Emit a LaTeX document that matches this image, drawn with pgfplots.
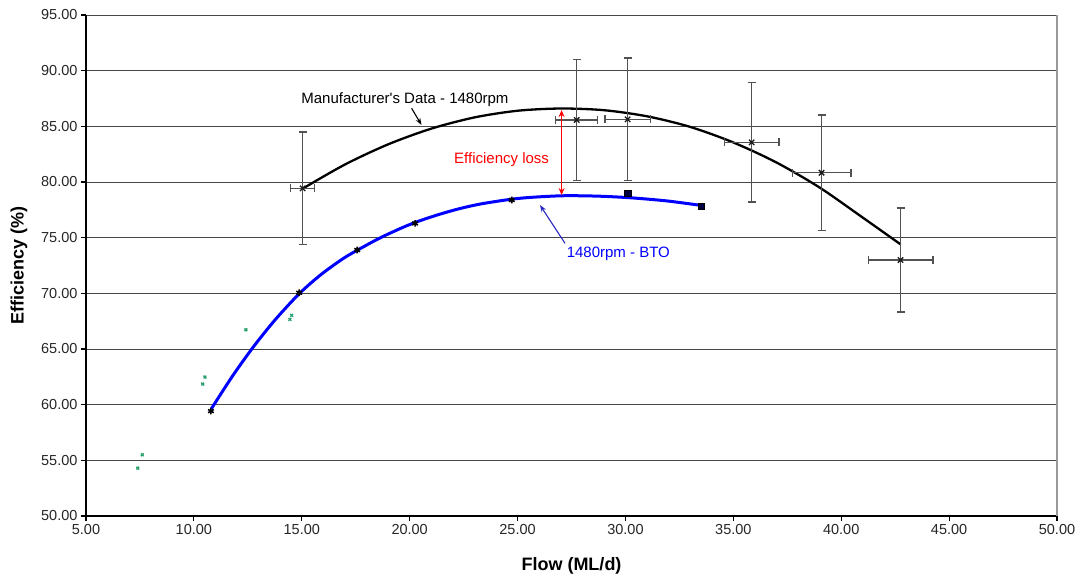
\documentclass[border=0pt]{standalone}
\usepackage{pgfplots}
\pgfplotsset{compat=1.18}
\usepackage{fontspec}
\setmainfont{Liberation Sans}
\usetikzlibrary{arrows.meta}
\definecolor{grn}{RGB}{40,160,110}
\definecolor{arrblue}{RGB}{40,40,190}
\begin{document}
\begin{tikzpicture}
\path[use as bounding box] (-86pt,-59pt) rectangle (998pt,516pt);
\begin{axis}[
  at={(0,0)}, anchor=south west,
  width=971pt, height=501pt, scale only axis,
  xmin=5, xmax=50, ymin=50, ymax=95,
  xtick={5,10,...,50}, ytick={50,55,...,95},
  axis lines=left, axis line style={-, line width=1.5pt, black},
  tick align=outside, major tick length=5pt, tick style={black, line width=1.1pt},
  ymajorgrids, major grid style={line width=0.9pt, black!72},
  tick label style={font=\fontsize{14.5}{16}\selectfont, text=black!85},
  xlabel={Flow (ML/d)}, ylabel={Efficiency (\%)},
  xlabel style={font=\bfseries\fontsize{18}{20}\selectfont, at={(rel axis cs:0.5,0)}, anchor=center, yshift=-49.5pt},
  ylabel style={font=\bfseries\fontsize{18}{20}\selectfont, at={([xshift=-67pt]rel axis cs:0,0.5)}, anchor=center},
  clip=false,
  /pgf/number format/fixed, /pgf/number format/fixed zerofill, /pgf/number format/precision=2,
  /pgf/number format/assume math mode=true,
]
% right border
\draw[black!40, line width=1.3pt] (rel axis cs:1,0) -- (rel axis cs:1,1);

% manufacturer trend
\addplot[black, line width=2.3pt, smooth] coordinates {
 (15.04,79.4) (17,81.57) (19,83.38) (21,84.79) (23,85.80) (25,86.40) (27,86.6)
 (29,86.45) (31,85.90) (33,84.95) (35,83.55) (37,81.75) (39,79.5) (41,76.8) (42.75,74.4)
};

% manufacturer data with error bars
\addplot[only marks, mark=x, mark size=3.8pt, mark options={line width=1.3pt, black!90},
  error bars/.cd, x dir=both, x explicit, y dir=both, y explicit,
  error bar style={line width=1.3pt, black!68},
  error mark options={rotate=90, mark size=4pt, line width=1.3pt, black!68}]
 coordinates {
 (15.04,79.43) +- (0.55,5.05)
 (27.74,85.57) +- (0.97,5.45)
 (30.10,85.63) +- (1.05,5.5)
 (35.85,83.56) +- (1.26,5.37)
 (39.09,80.83) +- (1.36,5.18)
 (42.75,72.99) +- (1.50,4.68)
};

% green scattered points
\addplot[only marks, mark=x, mark size=2pt, mark options={line width=1.3pt, grn}] coordinates {
 (7.61,55.5) (7.40,54.3) (10.51,62.48) (10.41,61.85) (12.41,66.73) (14.53,68.02) (14.45,67.66)
};

% BTO trend
\addplot[blue, line width=3pt, smooth] coordinates {
 (10.8,59.6) (11.8,62.6) (12.8,65.3) (13.8,67.7) (14.9,70.0) (15.9,71.7) (16.9,73.1)
 (17.6,73.9) (18.6,74.95) (19.6,75.85) (20.3,76.4) (21.3,77.05) (22.3,77.6) (23.3,78.03)
 (24.7,78.45) (25.7,78.63) (27,78.76) (28,78.76) (29,78.71) (30.1,78.6) (31.1,78.45)
 (32.1,78.26) (33.5,77.9)
};

% BTO data
\addplot[only marks, mark=asterisk, mark size=3.3pt, mark options={line width=1.6pt, black}] coordinates {
 (10.79,59.42) (14.88,70.05) (17.57,73.89) (20.25,76.28) (24.73,78.38)
};
\addplot[only marks, mark=square*, mark size=3.2pt, mark options={black, fill=black!75!blue}] coordinates {
 (30.10,78.98) (33.50,77.84)
};

% annotations
\node[font=\fontsize{15}{17}\selectfont] at (axis cs:19.78,87.43) {Manufacturer\textquotesingle s Data - 1480rpm};
\draw[-{Stealth[length=7pt,width=5pt]}, line width=1.1pt] (axis cs:20.09,86.62) -- (axis cs:20.55,85.12);
\draw[{Stealth[length=7pt,width=6pt]}-{Stealth[length=7pt,width=6pt]}, red, line width=1.1pt] (axis cs:27.04,86.46) -- (axis cs:27.04,78.83);
\node[red, font=\fontsize{15}{17}\selectfont] at (axis cs:24.26,81.97) {Efficiency loss};
\draw[-{Stealth[length=7pt,width=5pt]}, arrblue, line width=1.1pt] (axis cs:27.2,74.49) -- (axis cs:26.04,77.93);
\node[blue, font=\fontsize{15}{17}\selectfont] at (axis cs:29.67,73.59) {1480rpm - BTO};
\end{axis}
\end{tikzpicture}
\end{document}
